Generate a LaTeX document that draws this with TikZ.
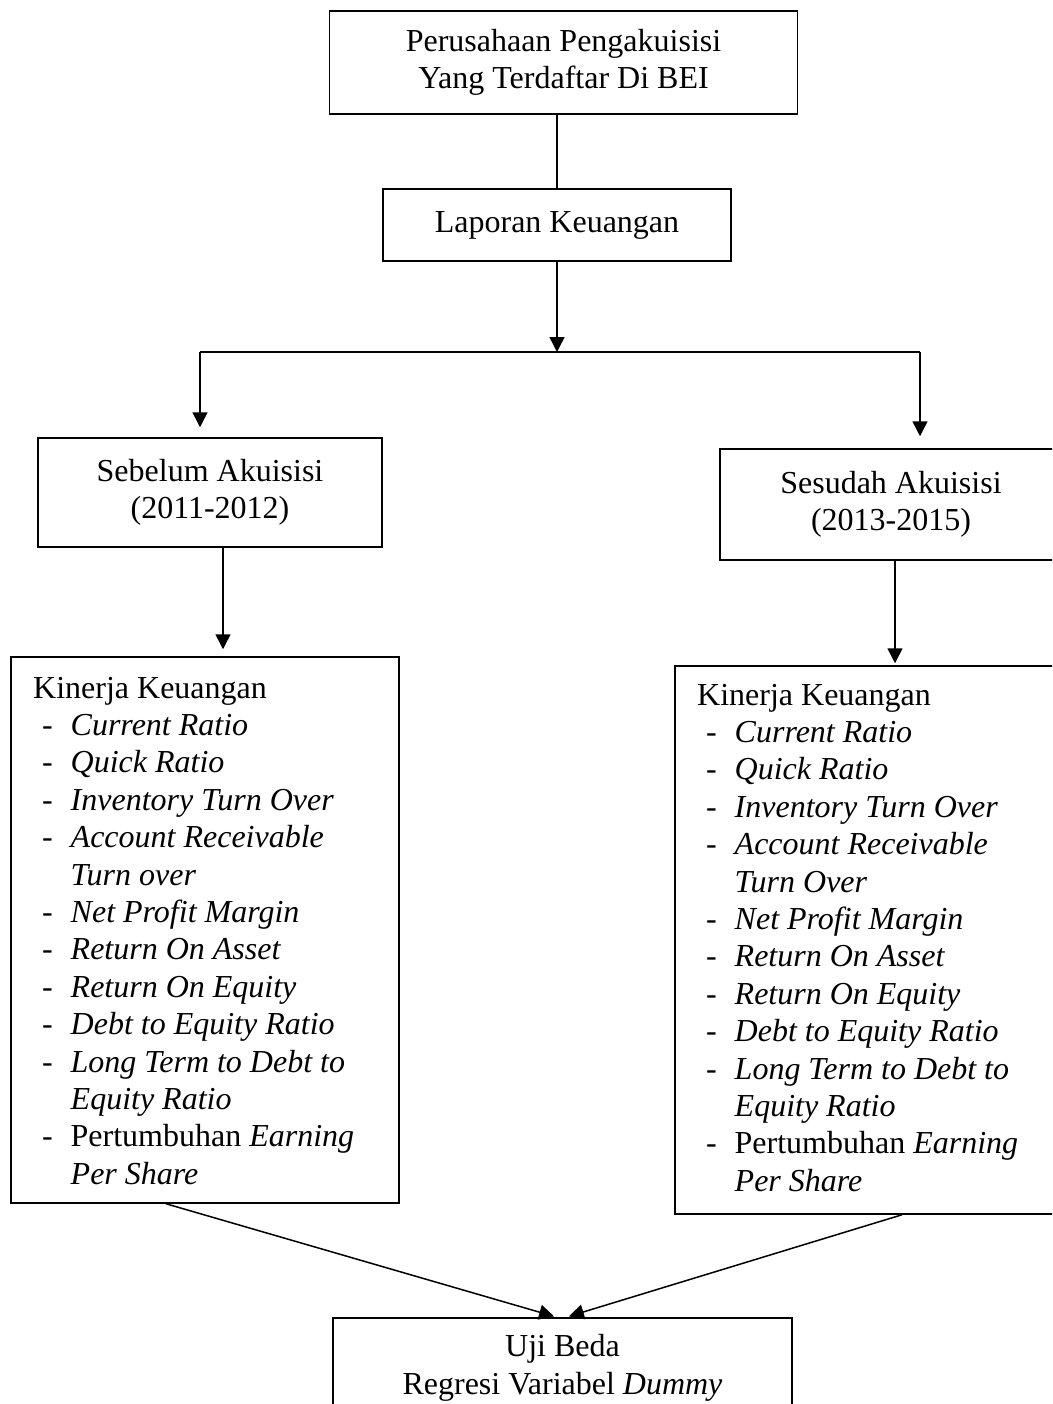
\documentclass[tikz,border=0pt]{standalone}
\usepackage{fontspec}
\setmainfont{Liberation Serif}
\usetikzlibrary{arrows.meta,calc}
\begin{document}
\begin{tikzpicture}[x=1pt,y=-1pt,
  box/.style={draw, line width=1.5pt, inner sep=0pt, align=center, font=\fontsize{32}{37.4}\selectfont},
  conn/.style={line width=1.5pt},
  arr/.style={conn,-{Triangle[width=15pt,length=15pt]}},
  listtext/.style={inner sep=0pt, anchor=base west, font=\fontsize{32}{37.4}\selectfont}]
\useasboundingbox (0,0) rectangle (1052,1404);
\clip (0,0) rectangle (1052,1404);

% boxes
\node[box, minimum width=468, minimum height=103] (top) at (563.5,62.5) {Perusahaan Pengakuisisi\\Yang Terdaftar Di BEI};
\node[box, minimum width=348, minimum height=72] (lap) at (557,225) {Laporan Keuangan};
\node[box, minimum width=344, minimum height=109] (sb) at (210,492.5) {Sebelum Akuisisi\\(2011-2012)};
\node[box, minimum width=342, minimum height=111] (sd) at (891,504.5) {Sesudah Akuisisi\\(2013-2015)};
\node[box, minimum width=388, minimum height=546] (kl) at (205,930) {};
\node[box, minimum width=440, minimum height=548] (kr) at (895,940) {};
\node[box, minimum width=459, minimum height=100] (ub) at (562.5,1368) {Uji Beda\\Regresi Variabel \textit{Dummy}};

% list contents
\node[listtext] (klt) at (33,698) {\begin{tabular}[t]{@{}p{37.5pt}@{}l@{}}
\multicolumn{2}{@{}l@{}}{Kinerja Keuangan}\\
\hspace{9pt}- & \textit{Current Ratio}\\
\hspace{9pt}- & \textit{Quick Ratio}\\
\hspace{9pt}- & \textit{Inventory Turn Over}\\
\hspace{9pt}- & \textit{Account Receivable}\\
 & \textit{Turn over}\\
\hspace{9pt}- & \textit{Net Profit Margin}\\
\hspace{9pt}- & \textit{Return On Asset}\\
\hspace{9pt}- & \textit{Return On Equity}\\
\hspace{9pt}- & \textit{Debt to Equity Ratio}\\
\hspace{9pt}- & \textit{Long Term to Debt to}\\
 & \textit{Equity Ratio}\\
\hspace{9pt}- & Pertumbuhan \textit{Earning}\\
 & \textit{Per Share}
\end{tabular}};
\node[listtext] (krt) at (697,705) {\begin{tabular}[t]{@{}p{37.5pt}@{}l@{}}
\multicolumn{2}{@{}l@{}}{Kinerja Keuangan}\\
\hspace{9pt}- & \textit{Current Ratio}\\
\hspace{9pt}- & \textit{Quick Ratio}\\
\hspace{9pt}- & \textit{Inventory Turn Over}\\
\hspace{9pt}- & \textit{Account Receivable}\\
 & \textit{Turn Over}\\
\hspace{9pt}- & \textit{Net Profit Margin}\\
\hspace{9pt}- & \textit{Return On Asset}\\
\hspace{9pt}- & \textit{Return On Equity}\\
\hspace{9pt}- & \textit{Debt to Equity Ratio}\\
\hspace{9pt}- & \textit{Long Term to Debt to}\\
 & \textit{Equity Ratio}\\
\hspace{9pt}- & Pertumbuhan \textit{Earning}\\
 & \textit{Per Share}
\end{tabular}};

% helper coordinates
\coordinate (j) at (557,352);
\coordinate (jl) at (200,352);
\coordinate (jr) at (920,352);
\coordinate (al) at (223,0);
\coordinate (ar) at (895,0);
\coordinate (lsx) at (166,0);
\coordinate (rsx) at (902,0);
\coordinate (ltx) at (557,0);
\coordinate (rtx) at (566,0);

% connectors
\draw[conn] (top.south -| lap.north) -- (lap.north);
\draw[arr] (lap.south) -- (j);
\draw[conn] (jl) -- (jr);
\draw[arr, shorten >=10pt] (jl) -- (jl |- sb.north);
\draw[arr, shorten >=12pt] (jr) -- (jr |- sd.north);
\draw[arr, shorten >=7pt] (sb.south -| al) -- (kl.north -| al);
\draw[arr, shorten >=2pt] (sd.south -| ar) -- (kr.north -| ar);
\draw[arr, shorten >=3pt] (kl.south -| lsx) -- (ub.north -| ltx);
\draw[arr, shorten >=3pt] (kr.south -| rsx) -- (ub.north -| rtx);
\end{tikzpicture}
\end{document}
